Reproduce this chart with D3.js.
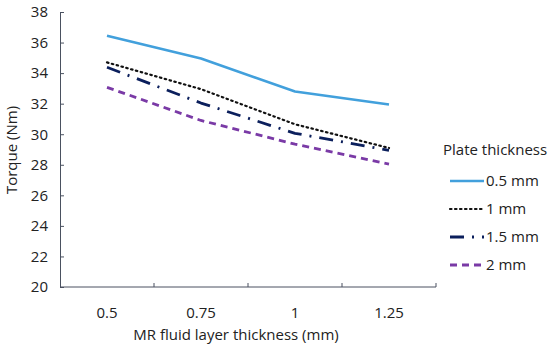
<!DOCTYPE html>
<html>
<head>
<meta charset="utf-8">
<script src="https://cdn.jsdelivr.net/npm/d3@7"></script>
<style>
  body { margin: 0; background: #fff; }
  svg text { font-family: "Open Sans", "Noto Sans", sans-serif; fill: #222; }
</style>
</head>
<body>
<svg id="chart" width="550" height="349"></svg>
<script>
// data
var layers = ["0.5", "0.75", "1", "1.25"];
var seriesNames = ["0.5 mm", "1 mm", "1.5 mm", "2 mm"];
var torque05 = [36.45, 34.95, 32.8, 31.95];
var torque10 = [34.7, 32.95, 30.65, 29.1];
var torque15 = [34.38, 32.04, 30.06, 28.95];
var torque20 = [33.07, 30.9, 29.35, 28.05];
var yTicks = [20, 22, 24, 26, 28, 30, 32, 34, 36, 38];

var styles = [
  { color: "#42a0dc", dash: null, width: 2.6 },
  { color: "#111111", dash: "1.5,3.5", width: 2.2, cap: "round" },
  { color: "#0b1f5c", dash: "14,8,2,8", width: 2.8 },
  { color: "#7a3aa6", dash: "7,5", width: 2.8 }
];
var series = [torque05, torque10, torque15, torque20];

var svg = d3.select("#chart"),
    plotL = 60, plotR = 436, plotT = 12, plotB = 287,
    fs = "15px";

var x = d3.scaleBand().domain(layers).range([plotL, plotR]);
var y = d3.scaleLinear().domain([20, 38]).range([plotB, plotT]);

// y axis
var yAxis = svg.append("g").attr("transform", "translate(" + plotL + ",0)")
  .call(d3.axisLeft(y).tickValues(yTicks).tickSize(-4).tickPadding(12));
yAxis.select(".domain").attr("stroke", "#4a5160");
yAxis.selectAll(".tick line").attr("stroke", "#4a5160");
yAxis.selectAll("text").style("font-size", fs).attr("fill", "#222");

// x axis, ticks between categories
var xAxis = svg.append("g").attr("transform", "translate(0," + plotB + ")");
xAxis.append("line").attr("x1", plotL).attr("x2", plotR).attr("stroke", "#4a5160");
var edges = layers.map(function(d) { return x(d) + x.bandwidth(); });
xAxis.selectAll(".tk").data(edges).enter().append("line")
  .attr("x1", function(d) { return d; }).attr("x2", function(d) { return d; })
  .attr("y1", 0).attr("y2", -4).attr("stroke", "#4a5160");
xAxis.selectAll(".lbl").data(layers).enter().append("text")
  .attr("x", function(d) { return x(d) + x.bandwidth() / 2; })
  .attr("y", 31).attr("text-anchor", "middle")
  .style("font-size", fs).text(function(d) { return d; });

svg.append("text").attr("x", 236).attr("y", 340).attr("text-anchor", "middle")
  .style("font-size", fs).text("MR fluid layer thickness (mm)");
svg.append("text").attr("transform", "translate(17,150) rotate(-90)")
  .attr("text-anchor", "middle").style("font-size", fs).text("Torque (Nm)");

var line = d3.line()
  .x(function(d, i) { return x(layers[i]) + x.bandwidth() / 2; })
  .y(function(d) { return y(d); });

series.forEach(function(s, i) {
  svg.append("path").datum(s).attr("d", line)
    .attr("fill", "none").attr("stroke", styles[i].color)
    .attr("stroke-width", styles[i].width)
    .attr("stroke-dasharray", styles[i].dash)
    .attr("stroke-linecap", styles[i].cap || "butt")
    .attr("stroke-linejoin", "round");
});

// legend
var legend = svg.append("g");
legend.append("text").attr("x", 443).attr("y", 155).style("font-size", fs).text("Plate thickness");
seriesNames.forEach(function(n, i) {
  var ly = 181 + i * 28;
  legend.append("line").attr("x1", 450).attr("x2", 484).attr("y1", ly).attr("y2", ly)
    .attr("stroke", styles[i].color).attr("stroke-width", styles[i].width)
    .attr("stroke-dasharray", styles[i].dash)
    .attr("stroke-linecap", styles[i].cap || "butt");
  legend.append("text").attr("x", 486).attr("y", ly + 5).style("font-size", fs).text(n);
});
</script>
</body>
</html>
